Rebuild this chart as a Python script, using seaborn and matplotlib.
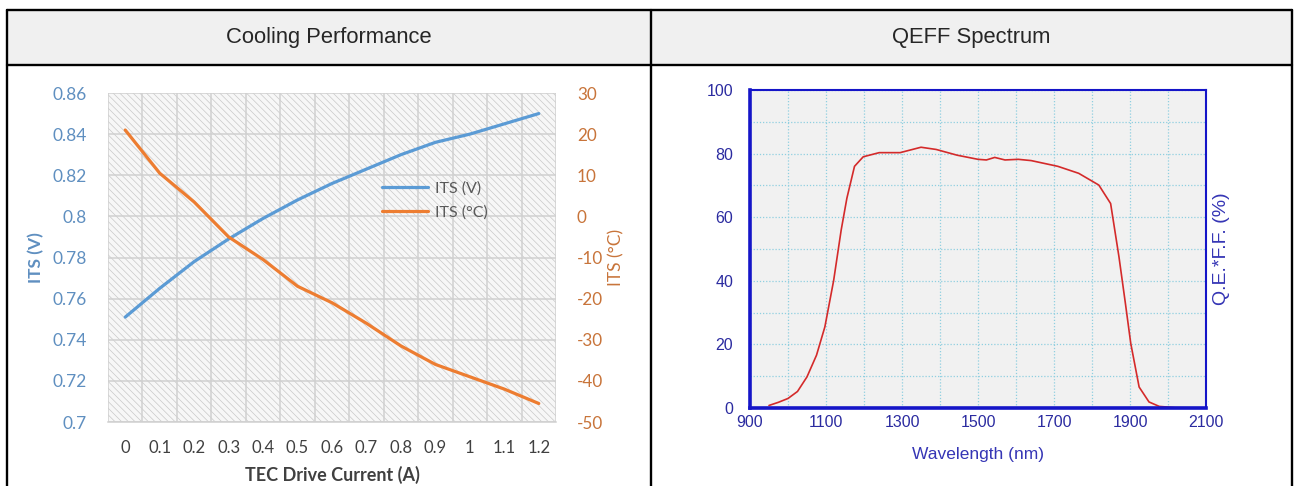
import matplotlib
matplotlib.use("Agg")
import matplotlib.pyplot as plt
import seaborn as sns
from matplotlib.lines import Line2D
from matplotlib.patches import Rectangle
from matplotlib.ticker import MultipleLocator, FixedLocator

# cooling performance data
currents = [0.0, 0.1, 0.2, 0.3, 0.4, 0.5, 0.6, 0.7, 0.8, 0.9, 1.0, 1.1, 1.2]
current_labels = ["0", "0.1", "0.2", "0.3", "0.4", "0.5", "0.6", "0.7", "0.8", "0.9", "1", "1.1", "1.2"]
its_v = [0.751, 0.765, 0.778, 0.789, 0.799, 0.808, 0.816, 0.823, 0.830, 0.836, 0.840, 0.845, 0.850]
its_c = [21, 10.5, 3.5, -5, -10.5, -17, -21, -26, -31.5, -36, -39, -42, -45.5]
volt_ticks = [0.7, 0.72, 0.74, 0.76, 0.78, 0.8, 0.82, 0.84, 0.86]
volt_labels = ["0.7", "0.72", "0.74", "0.76", "0.78", "0.8", "0.82", "0.84", "0.86"]
temp_ticks = [-50, -40, -30, -20, -10, 0, 10, 20, 30]

# QE spectrum data
wavelength = [950, 975, 1000, 1025, 1050, 1075, 1097, 1120, 1140, 1155, 1175, 1198, 1240,
              1295, 1350, 1390, 1445, 1500, 1522, 1544, 1571, 1606, 1640, 1710, 1765, 1818,
              1849, 1871, 1888, 1902, 1924, 1950, 1977, 2020, 2100]
qeff = [0.8, 1.8, 3, 5.2, 9.8, 16.6, 25.5, 40, 56, 66, 76, 79, 80.3,
        80.3, 82, 81.3, 79.5, 78.2, 78, 78.8, 78, 78.2, 77.8, 76, 73.8, 70.1,
        64.3, 47.5, 32.8, 20.3, 6.6, 1.9, 0.5, 0.1, 0]
wl_ticks = [900, 1100, 1300, 1500, 1700, 1900, 2100]
qe_ticks = [0, 20, 40, 60, 80, 100]

sns.set_style("white")
plt.rcParams["hatch.linewidth"] = 0.5
plt.rcParams["axes.unicode_minus"] = False

W, H = 1298, 486
fig = plt.figure(figsize=(W / 100, H / 100), dpi=100)


def fx(x):
    return x / W


def fy(y):
    return 1 - y / H


# table frame
fig.add_artist(Rectangle((fx(7), fy(65)), fx(1292 - 7), 55 / H, transform=fig.transFigure,
                         facecolor="#f0f0f0", edgecolor="none", zorder=0))
line_kw = dict(color="black", lw=1.7, transform=fig.transFigure, zorder=5)
fig.add_artist(Line2D([fx(7), fx(1292)], [fy(10), fy(10)], **line_kw))
fig.add_artist(Line2D([fx(7), fx(1292)], [fy(65), fy(65)], **line_kw))
fig.add_artist(Line2D([fx(7), fx(7)], [fy(10), 0], **line_kw))
fig.add_artist(Line2D([fx(651), fx(651)], [fy(10), 0], **line_kw))
fig.add_artist(Line2D([fx(1292), fx(1292)], [fy(10), 0], **line_kw))
fig.text(fx(329), fy(38), "Cooling Performance", ha="center", va="center",
         fontsize=15.8, family="Liberation Sans")
fig.text(fx(971), fy(38), "QEFF Spectrum", ha="center", va="center",
         fontsize=15.8, family="Liberation Sans")

# ---- left chart ----
blue = "#5b9bd5"
orange = "#ed7d31"
ax = fig.add_axes([fx(108), fy(422), fx(556 - 108), (422 - 93) / H])
ax.add_patch(Rectangle((0, 0), 1, 1, transform=ax.transAxes, facecolor="#f7f7f7",
                       edgecolor="#c8c8c8", hatch="\\\\\\\\\\", lw=0, zorder=0))
sns.lineplot(x=currents, y=its_v, ax=ax, color=blue, lw=2.3, label="ITS (V)", legend=False)
ax.set_xlim(-0.05, 1.25)
ax.set_ylim(0.7, 0.86)
ax.set_yticks(volt_ticks)
ax.set_yticklabels(volt_labels)
ax.set_xticks(currents)
ax.set_xticklabels(current_labels)
ax.xaxis.set_minor_locator(FixedLocator([-0.05 + 0.1 * i for i in range(14)]))
ax.grid(True, axis="y", which="major", color="#d0d0d0", lw=1.1)
ax.grid(True, axis="x", which="minor", color="#d0d0d0", lw=1.1)
ax.set_axisbelow(True)
for s in ["left", "right", "top"]:
    ax.spines[s].set_visible(False)
ax.spines["bottom"].set_color("#d0d0d0")
ax.spines["bottom"].set_linewidth(1.1)
ax.tick_params(axis="y", length=0, pad=15, labelsize=12.5, labelcolor="#5f8fc0")
ax.tick_params(axis="x", which="major", length=0, pad=13, labelsize=12, labelcolor="#404040")
ax.tick_params(axis="x", which="minor", length=5, color="#d0d0d0", width=1.1)
for t in ax.get_xticklabels() + ax.get_yticklabels():
    t.set_family("Lato")
ax.set_xlabel("TEC Drive Current (A)", fontsize=13, fontweight="bold", color="#404040",
              family="Lato", labelpad=7)
ax.set_ylabel("ITS (V)", fontsize=12.5, fontweight="bold", color="#5f8fc0",
              family="Lato", labelpad=6)

ax2 = ax.twinx()
sns.lineplot(x=currents, y=its_c, ax=ax2, color=orange, lw=2.3, label="ITS (\u00b0C)", legend=False)
ax2.set_ylim(-50, 30)
ax2.set_yticks(temp_ticks)
ax2.tick_params(axis="y", length=0, pad=15, labelsize=12.3, labelcolor="#c8743a")
for t in ax2.get_yticklabels():
    t.set_family("Lato")
for s in ax2.spines.values():
    s.set_visible(False)
ax2.set_ylabel("ITS (\u00b0C)", fontsize=12.5, color="#c8743a", family="Lato", labelpad=4)

handles = [Line2D([], [], color=blue, lw=2.3), Line2D([], [], color=orange, lw=2.3)]
leg = fig.legend(handles, ["ITS (V)", "ITS (\u00b0C)"], loc="upper left",
                 bbox_to_anchor=(fx(382), fy(181)), frameon=False, handlelength=2.9,
                 handletextpad=0.4, labelspacing=0.65, borderpad=0, borderaxespad=0,
                 prop={"family": "Lato", "size": 11.5})
for t in leg.get_texts():
    t.set_color("#595959")

# ---- right chart ----
navy = "#1515c8"
tick_blue = "#2b2ba0"
bx = fig.add_axes([fx(750), fy(408), fx(1206 - 750), (408 - 90) / H])
bx.set_facecolor("#f1f1f1")
sns.lineplot(x=wavelength, y=qeff, ax=bx, color="#d42a2a", lw=1.2)
bx.set_xlim(900, 2100)
bx.set_ylim(0, 100)
bx.set_xticks(wl_ticks)
bx.set_yticks(qe_ticks)
bx.xaxis.set_minor_locator(MultipleLocator(100))
bx.yaxis.set_minor_locator(MultipleLocator(10))
bx.grid(True, which="both", color="#8fcfe0", lw=0.9, ls=(0, (1, 1.5)))
bx.set_axisbelow(True)
for s in ["left", "bottom"]:
    bx.spines[s].set_color(navy)
    bx.spines[s].set_linewidth(2.6)
for s in ["top", "right"]:
    bx.spines[s].set_color(navy)
    bx.spines[s].set_linewidth(1.5)
bx.tick_params(axis="both", which="both", length=0, labelsize=11.5, labelcolor=tick_blue)
bx.tick_params(axis="y", pad=12)
bx.tick_params(axis="x", pad=5)
for t in bx.get_xticklabels() + bx.get_yticklabels():
    t.set_family("Liberation Sans")
bx.set_xlabel("Wavelength (nm)", fontsize=12.5, color="#3535b5", family="Liberation Sans",
              labelpad=12)
bx.yaxis.set_label_position("right")
bx.set_ylabel("Q.E.*F.F. (%)", fontsize=14, color="#3535b5", family="Liberation Sans",
              labelpad=5)

fig.savefig("out.png", dpi=100)
